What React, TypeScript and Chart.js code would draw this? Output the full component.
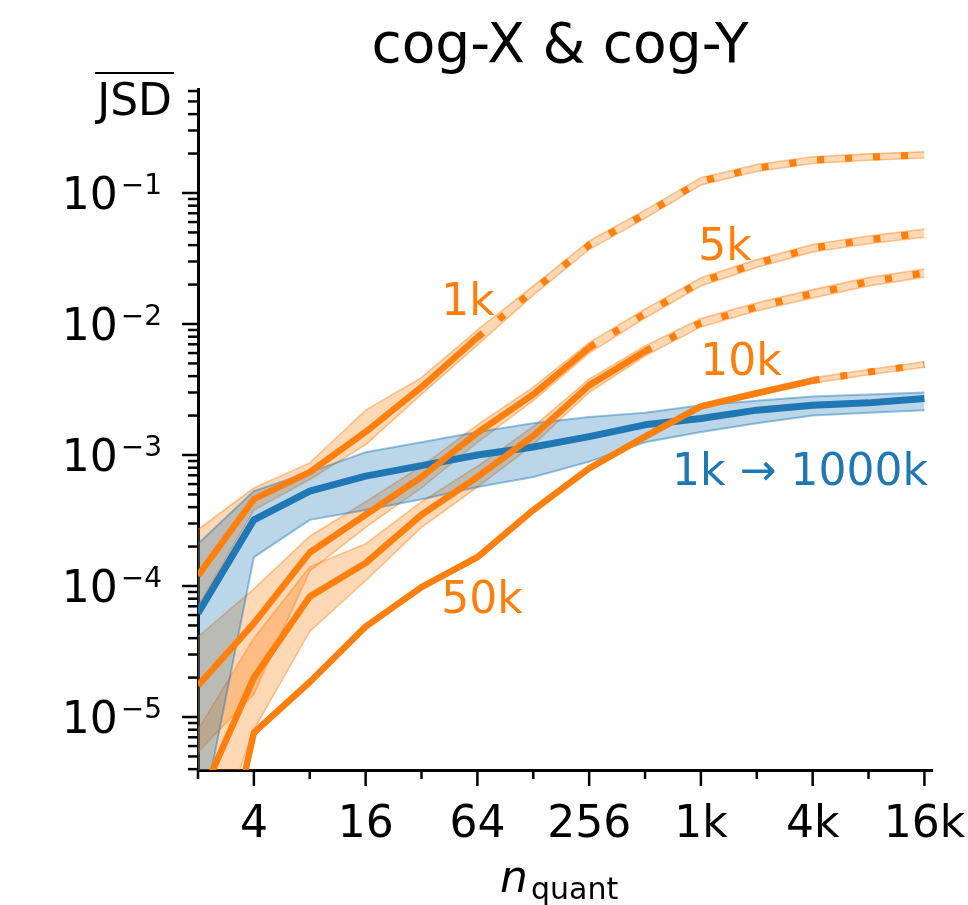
import React, { useEffect, useRef } from 'react';
import { Chart, registerables } from 'chart.js';

Chart.register(...registerables);

// ---------------- data ----------------
const nQuant = [2, 4, 8, 16, 32, 64, 128, 256, 512, 1024, 2048, 4096, 8192, 16384];
const xMajorTicks = [4, 16, 64, 256, 1024, 4096, 16384];
const xTickLabels = ['4', '16', '64', '256', '1k', '4k', '16k'];
const yDecades = [-5, -4, -3, -2, -1];

// blue: 1k -> 1000k
const blueMean = [6.2e-5, 3.2e-4, 5.3e-4, 6.9e-4, 8.3e-4, 1.0e-3, 1.15e-3, 1.38e-3, 1.7e-3, 1.9e-3, 2.2e-3, 2.4e-3, 2.5e-3, 2.7e-3];
const blueUpper = [2.1e-4, 5.3e-4, 7.4e-4, 1.05e-3, 1.25e-3, 1.5e-3, 1.75e-3, 1.95e-3, 2.1e-3, 2.4e-3, 2.6e-3, 2.8e-3, 2.9e-3, 3.0e-3];
const blueLower = [1.2e-6, 1.66e-4, 3.2e-4, 3.8e-4, 4.6e-4, 5.7e-4, 6.8e-4, 8.9e-4, 1.25e-3, 1.5e-3, 1.75e-3, 2.0e-3, 2.1e-3, 2.2e-3];

// orange: 1k
const k1Mean = [1.2e-4, 4.6e-4, 7.4e-4, 1.5e-3, 3.3e-3, 7.9e-3, 0.018, 0.040, 0.069, 0.123, 0.155, 0.178, 0.188, 0.195];
const k1Upper = [2.7e-4, 5.6e-4, 8.7e-4, 2.2e-3, 3.9e-3, 9.0e-3, 0.0195, 0.043, 0.074, 0.131, 0.165, 0.189, 0.199, 0.206];
const k1Lower = [7e-5, 3.8e-4, 6.5e-4, 1.2e-3, 2.9e-3, 6.9e-3, 0.0166, 0.037, 0.064, 0.115, 0.146, 0.168, 0.178, 0.185];
// orange: 5k
const k5Mean = [1.74e-5, 5.2e-5, 1.8e-4, 3.5e-4, 6.8e-4, 1.48e-3, 2.9e-3, 6.6e-3, 0.012, 0.021, 0.029, 0.038, 0.044, 0.0495];
const k5Upper = [4.1e-5, 9.5e-5, 2.4e-4, 4.4e-4, 8.2e-4, 1.7e-3, 3.3e-3, 7.2e-3, 0.013, 0.0225, 0.031, 0.0405, 0.047, 0.053];
const k5Lower = [5.4e-6, 1.5e-5, 1.3e-4, 2.8e-4, 5.6e-4, 1.25e-3, 2.6e-3, 6.0e-3, 0.0111, 0.0195, 0.027, 0.0355, 0.041, 0.046];
// orange: 10k
const k10Mean = [2.2e-6, 2.0e-5, 8.3e-5, 1.5e-4, 3.5e-4, 6.8e-4, 1.4e-3, 3.4e-3, 6.2e-3, 0.0102, 0.0135, 0.017, 0.021, 0.0245];
const k10Upper = [8e-6, 4e-5, 1.4e-4, 2.1e-4, 4.4e-4, 8.2e-4, 1.65e-3, 3.8e-3, 6.8e-3, 0.011, 0.0145, 0.0183, 0.0226, 0.0263];
const k10Lower = [5e-7, 8e-6, 4.5e-5, 1.1e-4, 2.8e-4, 5.7e-4, 1.2e-3, 3.0e-3, 5.7e-3, 0.0095, 0.0126, 0.0158, 0.0195, 0.0228];
// orange: 50k
const k50Mean = [9e-8, 7.6e-6, 1.85e-5, 4.9e-5, 9.8e-5, 1.66e-4, 3.8e-4, 7.9e-4, 1.38e-3, 2.35e-3, 2.96e-3, 3.7e-3, 4.3e-3, 4.9e-3];
const k50Upper = [1e-7, 8.0e-6, 1.95e-5, 5.1e-5, 1.02e-4, 1.73e-4, 3.95e-4, 8.2e-4, 1.44e-3, 2.45e-3, 3.1e-3, 3.88e-3, 4.5e-3, 5.15e-3];
const k50Lower = [8e-8, 7.2e-6, 1.75e-5, 4.7e-5, 9.4e-5, 1.59e-4, 3.65e-4, 7.6e-4, 1.32e-3, 2.25e-3, 2.83e-3, 3.53e-3, 4.1e-3, 4.68e-3];

// index of last solid point for each orange curve (dotted afterwards)
const solidEnd = { k1: 5, k5: 7, k10: 8, k50: 11 };

const curveLabels = [
  { text: '1k', x: 468, y: 315, color: '#ff7f0e' },
  { text: '5k', x: 725, y: 260, color: '#ff7f0e' },
  { text: '10k', x: 741, y: 375, color: '#ff7f0e' },
  { text: '50k', x: 482, y: 613, color: '#ff7f0e' },
  { text: '1k \u2192 1000k', x: 800, y: 485, color: '#1f77b4' },
];

const ORANGE = '#ff7f0e';
const BLUE = '#1f77b4';
const FONT = "'DejaVu Sans', sans-serif";

function pts(ys: number[], from = 0, to = ys.length) {
  return nQuant.slice(from, to).map((x, i) => ({ x, y: ys[from + i] }));
}

function buildDatasets() {
  const ds: any[] = [];
  const oranges = [
    { mean: k1Mean, up: k1Upper, lo: k1Lower, cut: solidEnd.k1 },
    { mean: k5Mean, up: k5Upper, lo: k5Lower, cut: solidEnd.k5 },
    { mean: k10Mean, up: k10Upper, lo: k10Lower, cut: solidEnd.k10 },
    { mean: k50Mean, up: k50Upper, lo: k50Lower, cut: solidEnd.k50 },
  ];
  const common = { pointRadius: 0, tension: 0, clip: 0 };
  // orange bands (bottom layer)
  oranges.forEach((c) => {
    ds.push({ ...common, data: pts(c.up), borderColor: 'rgba(255,127,14,0.42)', borderWidth: 1.6, fill: '+1', backgroundColor: 'rgba(255,127,14,0.3)', order: 50 });
    ds.push({ ...common, data: pts(c.lo), borderColor: 'rgba(255,127,14,0.42)', borderWidth: 1.6, fill: false, order: 50 });
  });
  // blue band
  ds.push({ ...common, data: pts(blueUpper), borderColor: 'rgba(31,119,180,0.45)', borderWidth: 2, fill: '+1', backgroundColor: 'rgba(31,119,180,0.3)', order: 40 });
  ds.push({ ...common, data: pts(blueLower), borderColor: 'rgba(31,119,180,0.45)', borderWidth: 2, fill: false, order: 40 });
  // blue line
  ds.push({ ...common, data: pts(blueMean), borderColor: BLUE, borderWidth: 7, fill: false, order: 30, borderJoinStyle: 'round' });
  // orange lines
  oranges.forEach((c) => {
    ds.push({ ...common, data: pts(c.mean, 0, c.cut + 1), borderColor: ORANGE, borderWidth: 6.5, fill: false, order: 20, borderJoinStyle: 'round' });
    ds.push({ ...common, data: pts(c.mean, c.cut), borderColor: ORANGE, borderWidth: 7, borderDash: [7, 21], borderCapStyle: 'butt', fill: false, order: 20 });
  });
  return ds;
}

const decorPlugin = {
  id: 'decor',
  afterDraw(chart: any) {
    const { ctx, chartArea: ca } = chart;
    const xs = chart.scales.x;
    const ys = chart.scales.y;
    ctx.save();
    ctx.strokeStyle = '#000';
    ctx.fillStyle = '#000';
    ctx.lineWidth = 2.5;
    ctx.lineCap = 'butt';
    // x ticks
    nQuant.forEach((v) => {
      const px = xs.getPixelForValue(v);
      const major = xMajorTicks.includes(v);
      ctx.beginPath();
      ctx.moveTo(px, ca.bottom);
      ctx.lineTo(px, ca.bottom + (major ? 16 : 9));
      ctx.stroke();
    });
    // y ticks
    for (let e = -6; e <= 0; e++) {
      for (let m = 1; m <= 9; m++) {
        const v = m * Math.pow(10, e);
        if (v < ys.min || v > ys.max) continue;
        const py = ys.getPixelForValue(v);
        ctx.beginPath();
        ctx.moveTo(ca.left, py);
        ctx.lineTo(ca.left - (m === 1 ? 16 : 10), py);
        ctx.stroke();
      }
    }
    // x tick labels
    ctx.font = `44px ${FONT}`;
    ctx.textAlign = 'center';
    ctx.textBaseline = 'alphabetic';
    xMajorTicks.forEach((v, i) => {
      ctx.fillText(xTickLabels[i], xs.getPixelForValue(v), 837);
    });
    // y tick labels
    yDecades.forEach((e) => {
      const py = ys.getPixelForValue(Math.pow(10, e));
      const sup = '\u2212' + String(Math.abs(e));
      ctx.font = `28px ${FONT}`;
      ctx.textAlign = 'right';
      const supW = ctx.measureText(sup).width;
      ctx.fillText(sup, 162, py + 1);
      ctx.font = `44px ${FONT}`;
      ctx.fillText('10', 162 - supW - 3, py + 16);
    });
    // title
    ctx.textAlign = 'center';
    ctx.font = `55px ${FONT}`;
    ctx.fillText('cog-X & cog-Y', 560, 62);
    // y label with overline
    ctx.textAlign = 'right';
    ctx.font = `44px ${FONT}`;
    ctx.fillText('JSD', 172, 115);
    ctx.lineWidth = 2;
    ctx.beginPath();
    ctx.moveTo(95, 73);
    ctx.lineTo(174, 73);
    ctx.stroke();
    // x label
    ctx.textAlign = 'left';
    ctx.font = `italic 44px ${FONT}`;
    ctx.fillText('n', 500, 892);
    ctx.font = `30px ${FONT}`;
    ctx.fillText('quant', 531, 899);
    // curve labels
    ctx.textAlign = 'center';
    ctx.font = `44px ${FONT}`;
    curveLabels.forEach((l) => {
      ctx.fillStyle = l.color;
      ctx.fillText(l.text, l.x, l.y);
    });
    ctx.restore();
  },
};

export default function App() {
  const ref = useRef<HTMLCanvasElement>(null);
  useEffect(() => {
    document.body.style.margin = '0';
    const canvas = ref.current!;
    const chart = new Chart(canvas, {
      type: 'line',
      data: { datasets: buildDatasets() },
      options: {
        animation: false,
        responsive: false,
        devicePixelRatio: 1,
        layout: { padding: { top: 89, right: 36, left: 0, bottom: 0 } },
        plugins: { legend: { display: false }, tooltip: { enabled: false }, title: { display: false } },
        scales: {
          x: {
            type: 'logarithmic',
            min: 2,
            max: 18000,
            position: 'bottom',
            z: 1,
            grid: { display: false },
            border: { display: true, color: '#000', width: 3 },
            ticks: { display: false },
            afterFit: (s: any) => { s.height = 135; },
          },
          y: {
            type: 'logarithmic',
            min: 3.94e-6,
            max: 0.622,
            position: 'left',
            z: 1,
            grid: { display: false },
            border: { display: true, color: '#000', width: 3 },
            ticks: { display: false },
            afterFit: (s: any) => { s.width = 198; },
          },
        },
      } as any,
      plugins: [decorPlugin],
    });
    return () => chart.destroy();
  }, []);
  return <canvas ref={ref} width={968} height={905} style={{ display: 'block', width: 968, height: 905 }} />;
}
